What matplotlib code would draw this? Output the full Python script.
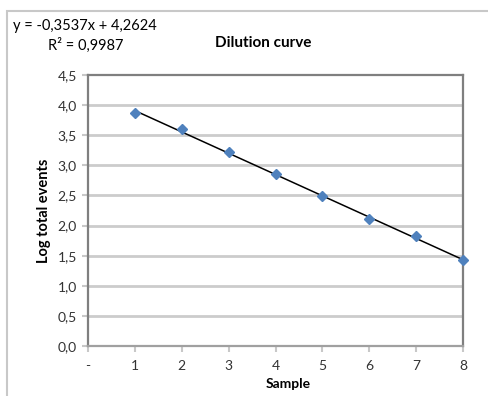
import numpy as np
import matplotlib.pyplot as plt
from matplotlib.patches import Rectangle

plt.rcParams['font.family'] = ['Lato', 'DejaVu Sans']

samples = [1, 2, 3, 4, 5, 6, 7, 8]
log_events = [3.87, 3.60, 3.22, 2.85, 2.49, 2.11, 1.83, 1.42]
slope = -0.3537
intercept = 4.2624
r_squared = 0.9987
x_ticks = [0, 1, 2, 3, 4, 5, 6, 7, 8]
x_labels = ["-", "1", "2", "3", "4", "5", "6", "7", "8"]
y_ticks = [0.0, 0.5, 1.0, 1.5, 2.0, 2.5, 3.0, 3.5, 4.0, 4.5]


def fmt(v, n):
    return f"{v:.{n}f}".replace(".", ",")


fig = plt.figure(figsize=(4.88, 3.96), dpi=100)
fig.patches.append(Rectangle((7 / 488, -0.1), 1.2, 1.1 - 11 / 396,
                             transform=fig.transFigure, fill=False,
                             edgecolor="#c8c8c8", lw=1.5))
ax = fig.add_axes([88 / 488, 50 / 396, 375 / 488, 271 / 396])

ax.set_xlim(0, 8)
ax.set_ylim(0, 4.5)
for y in y_ticks[1:-1]:
    ax.axhline(y, color="#cccccc", lw=2.0, zorder=0)

fit_x = np.array([samples[0], samples[-1]])
ax.plot(fit_x, slope * fit_x + intercept, color="black", lw=1.1, zorder=2)
ax.plot(samples, log_events, "D", color="#4f81bd", ms=5.5, mec="#4f81bd",
        zorder=3, clip_on=False)

ax.set_xticks(x_ticks)
ax.set_xticklabels(x_labels)
ax.set_yticks(y_ticks)
ax.set_yticklabels([fmt(v, 1) for v in y_ticks])
ax.tick_params(axis="both", labelsize=10, colors="#333333", length=4,
               width=1.5, direction="out")
ax.tick_params(axis="x", color="#c8c8c8", pad=6)
ax.tick_params(axis="y", color="#c8c8c8", pad=4)

for side in ["top", "right", "left"]:
    ax.spines[side].set_color("#7f7f7f")
    ax.spines[side].set_linewidth(1.6)
ax.spines["bottom"].set_color("#a0a0a0")
ax.spines["bottom"].set_linewidth(1.6)

ax.set_xlabel("Sample", fontsize=10, fontweight="bold")
ax.xaxis.set_label_coords(0.535, -0.118)
ax.set_ylabel("Log total events", fontsize=10.5, fontweight="bold", labelpad=5)

fig.text(263 / 488, 1 - 43 / 396, "Dilution curve", fontsize=11,
         fontweight="bold", ha="center", va="center")
fig.text(13 / 488, 1 - 26 / 396,
         f"y = {fmt(slope, 4)}x + {fmt(intercept, 4)}",
         fontsize=10.5, ha="left", va="center")
fig.text(48 / 488, 1 - 45 / 396, f"R² = {fmt(r_squared, 4)}",
         fontsize=10.5, ha="left", va="center")

fig.savefig("out.png", dpi=100)
